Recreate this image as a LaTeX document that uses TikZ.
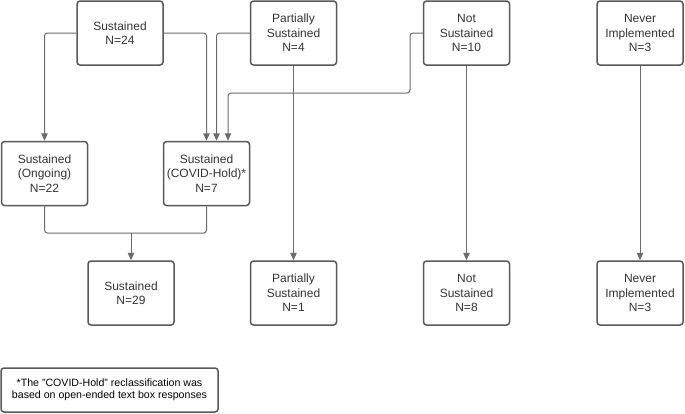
\documentclass[tikz,border=0pt]{standalone}
\usepackage{fontspec}
\setmainfont{Liberation Sans}
\usepackage{xcolor}
\usetikzlibrary{positioning,arrows.meta}

\definecolor{boxline}{HTML}{595959}
\definecolor{linkline}{HTML}{6B6B6B}
\definecolor{txt}{HTML}{333333}

\begin{document}
\begin{tikzpicture}[
    x=1pt, y=-1pt,
    box/.style={draw=boxline, line width=1.5pt, rounded corners=3pt,
                minimum width=86pt, minimum height=64pt, inner sep=2pt,
                align=center, text=txt,
                font=\fontsize{12}{14.5}\selectfont},
    link/.style={draw=linkline, line width=1pt, rounded corners=3pt},
    arr/.style={link, -{Triangle[length=7.5pt,width=6.5pt]}},
  ]
  \useasboundingbox (0,0) rectangle (685,413);
  % Top row
  \node[box] (sus24) at (120,33) {Sustained\\N=24};
  \node[box] (part4) at (293.5,33) {Partially\\Sustained\\N=4};
  \node[box] (not10) at (466.5,33) {Not\\Sustained\\N=10};
  \node[box] (nev3a) at (640,33) {Never\\Implemented\\N=3};
  % Middle row
  \node[box] (ongo) at (44.5,173.5) {Sustained\\(Ongoing)\\N=22};
  \node[box] (covid) at (206.5,173.5) {Sustained\\(COVID-Hold)*\\N=7};
  % Bottom row
  \node[box] (sus29) at (131,293) {Sustained\\N=29};
  \node[box] (part1) at (293.5,293) {Partially\\Sustained\\N=1};
  \node[box] (not8) at (466.5,293) {Not\\Sustained\\N=8};
  \node[box] (nev3b) at (640,293) {Never\\Implemented\\N=3};
  % Note
  \node[box, minimum width=217pt, minimum height=44pt,
        font=\fontsize{10.6}{12.5}\selectfont, text=black] (note) at (109.5,390)
        {*The "COVID-Hold" reclassification was\\
         based on open-ended text box responses};

  \coordinate (bend) at (410,93);
  \coordinate (join) at (131,233);

  \draw[arr] (sus24.west) -| (ongo.north);
  \draw[arr] (sus24.east) -| (covid.north);
  \draw[arr] (part4.west) -| ([xshift=10pt]covid.north);
  \draw[arr] (not10.west) -| (bend) -| ([xshift=21.5pt]covid.north);
  \draw[link] (ongo.south) |- (join) -| (covid.south);
  \draw[arr] (join) -- (sus29.north);
  \draw[arr] (part4.south) -- (part1.north);
  \draw[arr] (not10.south) -- (not8.north);
  \draw[arr] (nev3a.south) -- (nev3b.north);
\end{tikzpicture}
\end{document}
